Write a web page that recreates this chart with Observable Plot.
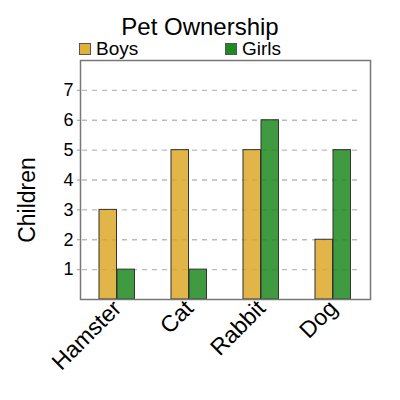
<!DOCTYPE html>
<html><head><meta charset="utf-8">
<script src="https://cdn.jsdelivr.net/npm/d3@7"></script>
<script src="https://cdn.jsdelivr.net/npm/@observablehq/plot@0.6"></script>
<style>
body{margin:0;background:#fff;font-family:"Liberation Sans",Arial,sans-serif;color:#000;}
#head{position:relative;width:400px;height:58px;}
#title{position:absolute;left:0;top:15px;width:400px;text-align:center;font-size:24px;line-height:24px;}
.leg{position:absolute;top:39px;font-size:19px;line-height:19px;display:flex;align-items:center;}
.sw{display:inline-block;width:10px;height:10px;border:1px solid #555;margin-right:5px;margin-top:1px;}
</style></head>
<body>
<div id="head">
  <div id="title">Pet Ownership</div>
  <div class="leg" id="legBoys" style="left:79px"><span class="sw" id="swBoys"></span><span id="tBoys"></span></div>
  <div class="leg" id="legGirls" style="left:225px"><span class="sw" id="swGirls"></span><span id="tGirls"></span></div>
</div>
<div id="chart"></div>
<script>
const pets = ["Hamster", "Cat", "Rabbit", "Dog"];
const boys = [3, 5, 5, 2];
const girls = [1, 1, 6, 5];
const seriesNames = ["Boys", "Girls"];
const seriesColors = ["#daa520", "#1f8a1f"];
const yTicks = [1, 2, 3, 4, 5, 6, 7];
const yLabel = "Children";

const data = pets.map((p, i) => ({pet: p, boys: boys[i], girls: girls[i]}));

document.getElementById("tBoys").textContent = seriesNames[0];
document.getElementById("tGirls").textContent = seriesNames[1];
document.getElementById("swBoys").style.background = "#e0b038";
document.getElementById("swGirls").style.background = seriesColors[1];

const chart = Plot.plot({
  width: 400,
  height: 342,
  marginTop: 2,
  marginLeft: 80,
  marginRight: 30,
  marginBottom: 101,
  style: {fontFamily: "Liberation Sans, Arial, sans-serif", fontSize: "23px", color: "#000", background: "#fff"},
  x: {domain: pets, padding: 0, axis: null},
  y: {domain: [0, 8], axis: null},
  marks: [
    Plot.ruleY(yTicks, {stroke: "#bbb", strokeWidth: 1.4, strokeDasharray: "5,5", insetLeft: 2, insetRight: 9}),
    Plot.barY(data, {x: "pet", y: "boys", fill: seriesColors[0], fillOpacity: 0.82, stroke: "#333", strokeWidth: 1, insetLeft: 18, insetRight: 36.5}),
    Plot.barY(data, {x: "pet", y: "girls", fill: seriesColors[1], fillOpacity: 0.85, stroke: "#333", strokeWidth: 1, insetLeft: 36, insetRight: 18.5}),
    Plot.frame({stroke: "#777", strokeWidth: 1.5}),
    Plot.axisY({ticks: yTicks, tickSize: 3, tickPadding: 4, fontSize: 18, label: null, stroke: "#999"}),
    Plot.text([yLabel], {text: d => d, frameAnchor: "left", rotate: -90, dx: -53, dy: 20, fontSize: 23, textAnchor: "middle", lineAnchor: "middle"}),
    Plot.axisX({tickRotate: -45, fontSize: 23, tickSize: 0, tickPadding: 5, label: null})
  ]
});
document.getElementById("chart").appendChild(chart);
</script>
</body></html>
